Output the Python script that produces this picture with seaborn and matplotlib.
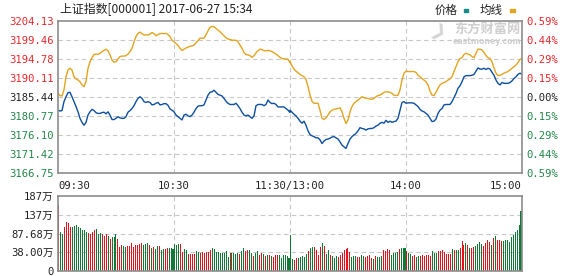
import numpy as np
import pandas as pd
import matplotlib
matplotlib.use("Agg")
import matplotlib.pyplot as plt
import seaborn as sns

# ---------------- data ----------------
title = "上证指数[000001] 2017-06-27 15:34"
legend_names = ["价格", "均线"]
time_labels = ["09:30", "10:30", "11:30/13:00", "14:00", "15:00"]
time_ticks = [0, 60, 120, 180, 240]
prev_close = 3185.44
price_tick_labels = ["3166.75", "3171.42", "3176.10", "3180.77", "3185.44",
                     "3190.11", "3194.78", "3199.46", "3204.13"]
pct_tick_labels = ["0.59%", "0.44%", "0.29%", "0.15%", "0.00%",
                   "0.15%", "0.29%", "0.44%", "0.59%"]
vol_tick_labels = ["0", "38.00万", "87.68万", "137万", "187万"]
vol_max = 187

price_am = [
    3182.2, 3182.0, 3182.1, 3184.3, 3185.5, 3186.5, 3186.6, 3185.5, 3184.3, 3183.1,
    3181.8, 3180.2, 3179.2, 3178.5, 3179.2, 3181.0, 3181.8, 3182.4, 3182.1, 3181.6,
    3181.4, 3181.4, 3181.6, 3181.7, 3181.3, 3181.8, 3181.0, 3179.9, 3179.9, 3180.2,
    3180.6, 3180.3, 3180.2, 3180.2, 3180.6, 3181.7, 3182.1, 3182.6, 3183.3, 3184.3,
    3185.1, 3185.5, 3185.1, 3184.3, 3184.1, 3184.3, 3184.1, 3183.5, 3183.6, 3183.9,
    3184.1, 3183.5, 3183.6, 3183.8, 3183.8, 3183.4, 3182.5, 3182.2,
    3181.8, 3181.0, 3180.6, 3180.2, 3179.8, 3181.0, 3181.2, 3180.8, 3180.6, 3181.0,
    3181.7, 3182.6, 3183.2, 3183.3, 3183.3, 3183.5, 3184.7, 3185.9, 3186.6, 3186.7,
    3187.1, 3186.6, 3186.1, 3185.9, 3185.7, 3185.1, 3184.4, 3183.9, 3183.6, 3183.6,
    3183.6, 3183.9, 3183.3, 3182.6, 3181.7, 3181.0, 3180.8, 3181.0, 3180.6, 3180.2,
    3180.8, 3183.3, 3183.6, 3183.6, 3183.6, 3183.3, 3183.6, 3184.7, 3184.1, 3183.8,
    3183.9, 3183.6, 3183.0, 3183.0, 3183.0, 3183.0, 3182.6, 3182.2, 3181.6]
price_pm = [
    3182.2, 3181.7, 3181.2, 3180.8, 3180.2, 3179.5, 3179.0, 3179.5, 3178.5, 3177.1,
    3176.2, 3175.9, 3175.7, 3175.4, 3175.4, 3174.9, 3174.0, 3174.6, 3175.0, 3175.1,
    3175.3, 3175.6, 3175.7, 3175.4, 3175.1, 3174.4, 3173.6, 3173.2, 3172.8, 3174.0,
    3175.1, 3175.7, 3176.1, 3176.5, 3177.1, 3177.9, 3177.7, 3177.6, 3177.3, 3177.6,
    3177.7, 3177.7, 3177.9, 3178.3, 3178.5, 3179.0, 3179.2, 3179.0, 3179.7, 3179.2,
    3179.5, 3179.2, 3179.4, 3179.5, 3180.2, 3182.2, 3184.1, 3184.3, 3183.9,
    3184.0, 3184.0, 3184.0, 3183.9, 3183.5, 3183.1, 3182.4, 3182.0, 3181.8, 3181.4,
    3181.0, 3180.2, 3179.4, 3179.5, 3180.0, 3181.4, 3182.2, 3182.6, 3183.5, 3183.6,
    3183.6, 3183.6, 3184.3, 3185.3, 3186.3, 3187.6, 3188.2, 3189.2, 3190.4, 3190.7,
    3190.7, 3190.7, 3190.8, 3191.0, 3191.8, 3192.6, 3192.3, 3192.3, 3192.5, 3192.2,
    3192.5, 3192.3, 3191.5, 3190.8, 3189.6, 3188.8, 3188.4, 3189.0, 3188.8, 3188.8,
    3188.8, 3189.0, 3189.4, 3190.0, 3190.4, 3191.0, 3191.3, 3191.0]
avg_am = [
    3186.3, 3185.8, 3185.7, 3187.2, 3190.4, 3192.1, 3192.5, 3192.1, 3190.4, 3189.9,
    3189.6, 3189.2, 3188.4, 3188.0, 3189.2, 3192.5, 3194.1, 3195.1, 3195.9, 3196.0,
    3195.9, 3196.2, 3196.6, 3196.9, 3197.2, 3196.8, 3195.8, 3194.5, 3194.0, 3194.1,
    3194.8, 3195.4, 3195.5, 3195.5, 3195.6, 3196.0, 3196.6, 3197.4, 3199.0, 3200.3,
    3201.1, 3201.4, 3201.0, 3200.7, 3200.7, 3200.7, 3200.9, 3201.3, 3201.0, 3200.5,
    3200.8, 3201.0, 3201.1, 3201.0, 3201.1, 3200.8, 3200.3, 3199.4,
    3199.0, 3198.6, 3198.1, 3197.4, 3196.9, 3197.2, 3197.5, 3197.7, 3197.9, 3198.0,
    3198.2, 3198.8, 3199.3, 3199.9, 3199.9, 3199.9, 3200.7, 3201.7, 3202.6, 3202.8,
    3202.7, 3202.3, 3201.9, 3201.5, 3201.0, 3200.5, 3200.0, 3199.7, 3199.6, 3199.4,
    3199.4, 3199.4, 3199.0, 3198.2, 3197.4, 3196.4, 3195.9, 3195.8, 3195.6, 3195.2,
    3195.6, 3196.3, 3196.8, 3197.2, 3197.1, 3196.8, 3196.8, 3196.9, 3196.8, 3196.6,
    3196.3, 3196.0, 3195.6, 3195.2, 3194.9, 3194.8, 3194.8, 3194.7, 3193.9]
avg_pm = [
    3194.1, 3193.1, 3192.3, 3191.8, 3191.4, 3191.0, 3190.7, 3190.4, 3189.8, 3188.0,
    3185.9, 3184.4, 3183.9, 3183.9, 3183.9, 3182.2, 3180.2, 3179.9, 3180.3, 3181.0,
    3181.8, 3182.2, 3182.4, 3182.5, 3182.6, 3182.8, 3181.8, 3180.2, 3178.9, 3179.8,
    3181.8, 3183.1, 3183.9, 3184.3, 3184.7, 3185.1, 3185.5, 3185.3, 3185.1, 3185.1,
    3184.9, 3184.9, 3185.1, 3185.5, 3185.8, 3185.9, 3186.2, 3186.6, 3186.7, 3186.7,
    3186.6, 3186.3, 3185.9, 3185.8, 3185.9, 3187.2, 3189.6, 3191.3, 3191.8,
    3191.7, 3191.7, 3191.7, 3191.7, 3191.5, 3190.8, 3190.4, 3190.0, 3189.6, 3189.2,
    3188.4, 3186.9, 3185.9, 3185.8, 3186.6, 3187.6, 3188.4, 3188.8, 3189.0, 3189.2,
    3189.6, 3189.9, 3190.4, 3191.7, 3192.9, 3194.1, 3194.9, 3195.1, 3195.9, 3196.2,
    3196.0, 3195.8, 3195.4, 3195.1, 3196.2, 3197.2, 3197.2, 3197.0, 3196.4, 3195.6,
    3195.1, 3194.9, 3194.1, 3192.6, 3191.3, 3190.7, 3190.8, 3191.0, 3191.3, 3191.5,
    3191.7, 3192.1, 3192.5, 3192.9, 3193.3, 3193.9, 3194.7, 3194.9]

# volume in 万 (one bar per minute), with direction r = up, g = down
vol_am = [
    165, 96, 92, 110, 122, 120, 110, 110, 112, 115, 110, 107, 101, 102, 97, 95, 92, 97, 102, 105,
    92, 95, 92, 87, 92, 87, 80, 85, 85, 92, 80, 60, 65, 62, 60, 62, 62, 70, 60, 65,
    65, 67, 70, 65, 67, 70, 65, 57, 60, 55, 62, 62, 52, 55, 55, 57, 57, 57, 55, 67,
    66, 67, 67, 47, 55, 52, 42, 42, 42, 42, 50, 47, 45, 47, 45, 47, 47, 52, 57, 55,
    47, 47, 45, 45, 45, 50, 35, 45, 45, 45, 42, 45, 42, 50, 57, 50, 52, 52, 45, 37,
    45, 50, 40, 45, 42, 37, 40, 40, 37, 35, 40, 40, 40, 32, 40, 40, 37, 32]
dir_am = ("rggrrrrgggggggg" "rrrrgggrrrgrgggrr" "rggrrrrrrrrgggrgrggrggrrggg"
          "gggrrggrrrrggrrrrrr" "gggggggggrggggrggrrggrggrrgrgrgrrrg")
vol_pm = [
    90, 30, 27, 32, 32, 35, 37, 35, 42, 50, 57, 60, 60, 52, 40, 60, 70, 62, 42, 52,
    40, 37, 32, 37, 35, 40, 45, 52, 55, 57, 47, 35, 37, 37, 35, 35, 40, 37, 35, 37,
    40, 32, 30, 37, 35, 35, 37, 52, 50, 55, 52, 40, 45, 45, 47, 55, 57, 57, 57,
    50, 45, 42, 37, 40, 35, 37, 37, 40, 37, 40, 40, 37, 50, 45, 45, 50, 50, 52, 47,
    42, 42, 42, 55, 52, 52, 52, 57, 75, 65, 70, 65, 57, 57, 60, 62, 67, 72, 67, 62,
    70, 77, 72, 65, 82, 87, 77, 77, 75, 75, 77, 77, 72, 85, 90, 97, 102, 115, 150]
dir_pm = ("gggggggrrgggggrggrrrrgrggrgggr" "rrrrrrgggrrggrrrrgrggg" "rrrrg"
          "gggrgggrggrrggrrrrrrggg" "rrrrrrrgrggrrrgrgrrggggrrrrgrgrrrg")

# ---------------- build tables ----------------
x_am = np.linspace(0, 120, len(price_am))
x_pm = np.linspace(120, 240, len(price_pm))
df_line = pd.DataFrame({
    "minute": np.concatenate([x_am, x_pm]),
    "price": price_am + price_pm,
    "avg": avg_am + avg_pm,
})
vols = vol_am + vol_pm
dirs = list((dir_am + dir_pm).ljust(len(vols), "g"))[:len(vols)]
vx_am = np.arange(len(vol_am)) * (120 / len(vol_am)) + 0.5
vx_pm = 120 + np.arange(len(vol_pm)) * (120 / len(vol_pm)) + 0.5
df_vol = pd.DataFrame({"minute": np.concatenate([vx_am, vx_pm]),
                       "vol": vols, "dir": dirs})

# ---------------- style ----------------
sns.set_theme(style="white")
plt.rcParams["font.family"] = ["DejaVu Sans", "Noto Sans CJK SC"]

RED = "#e8101a"
GREEN = "#0e7a36"
DARK = "#222222"
BLUE = "#0d4fa0"
ORANGE = "#e3a41e"
GRID = "#c8c8c8"
SPINE = "#8c8c8c"
TXT_RED = "#e8272b"
TXT_GREEN = "#23874a"
mono = ["DejaVu Sans Mono", "Noto Sans CJK SC"]

W, H = 578, 276
fig = plt.figure(figsize=(W / 100, H / 100), dpi=100)
fig.patch.set_facecolor("white")

def frac(l, t, r, b):
    return [l / W, 1 - b / H, (r - l) / W, (b - t) / H]

ax = fig.add_axes(frac(58, 21, 522, 173))
axv = fig.add_axes(frac(58, 196, 522, 271))

step = (3204.13 - prev_close) / 4
price_ticks = [prev_close + k * step for k in range(-4, 5)]

# lines
sns.lineplot(data=df_line, x="minute", y="avg", ax=ax, color=ORANGE, lw=1.0,
             estimator=None, sort=False, errorbar=None)
sns.lineplot(data=df_line, x="minute", y="price", ax=ax, color=BLUE, lw=1.0,
             estimator=None, sort=False, errorbar=None)

ax.set_xlim(0, 240)
ax.set_ylim(price_ticks[0], price_ticks[-1])
ax.set_yticks(price_ticks)
ax.set_yticklabels(price_tick_labels, fontfamily=mono, fontsize=7.6)
for i, lab in enumerate(ax.get_yticklabels()):
    lab.set_color(TXT_GREEN if i < 4 else (DARK if i == 4 else TXT_RED))
ax.set_xticks(time_ticks)
ax.set_xticklabels(time_labels, fontfamily=mono, fontsize=7.6, color=DARK)
xl = ax.get_xticklabels()
xl[0].set_ha("left")
xl[-1].set_ha("right")
ax.tick_params(axis="both", length=0, pad=3)
ax.tick_params(axis="x", pad=6)
ax.set_xlabel("")
ax.set_ylabel("")
for y in price_ticks[1:-1]:
    ax.axhline(y, color=GRID, lw=0.8, ls=(0, (4, 3)), zorder=0)
for x in time_ticks[1:-1]:
    ax.axvline(x, color=GRID, lw=0.8, ls=(0, (4, 3)), zorder=0)
for s in ax.spines.values():
    s.set_color(SPINE)
    s.set_linewidth(1.2)

axr = ax.twinx()
axr.set_ylim(ax.get_ylim())
axr.set_yticks(price_ticks)
axr.set_yticklabels(pct_tick_labels, fontfamily=mono, fontsize=7.6)
for i, lab in enumerate(axr.get_yticklabels()):
    lab.set_color(TXT_GREEN if i < 4 else (DARK if i == 4 else TXT_RED))
axr.tick_params(axis="y", length=0, pad=3)
for s in axr.spines.values():
    s.set_visible(False)

# volume bars (crisp, one per minute, about 1 px wide)
bar_colors = df_vol["dir"].map({"r": RED, "g": GREEN}).tolist()
axv.bar(df_vol["minute"], df_vol["vol"], width=0.53, color=bar_colors,
        linewidth=0, antialiased=False, zorder=2)
axv.set_xlim(0, 240)
axv.set_ylim(0, vol_max)
vt = [vol_max * k / 4 for k in range(5)]
axv.set_yticks(vt)
axv.set_yticklabels(vol_tick_labels, fontfamily=mono, fontsize=7.6, color=DARK)
axv.set_xticks([])
axv.tick_params(axis="y", length=0, pad=3)
for y in vt[1:-1]:
    axv.axhline(y, color=GRID, lw=0.8, ls=(0, (4, 3)), zorder=0)
for x in time_ticks[1:-1]:
    axv.axvline(x, color=GRID, lw=0.8, ls=(0, (4, 3)), zorder=0)
for s in axv.spines.values():
    s.set_color(SPINE)
    s.set_linewidth(1.2)

# title and legend
fig.text(60 / W, 1 - 10 / H, title, fontsize=8.6, color=DARK, va="center", ha="left",
         family=["Noto Sans CJK SC", "DejaVu Sans"])
fig.text(435 / W, 1 - 10 / H, legend_names[0], fontsize=8.3, color=DARK, va="center",
         ha="left", family=["Noto Sans CJK SC"])
fig.text(480 / W, 1 - 10 / H, legend_names[1], fontsize=8.3, color=DARK, va="center",
         ha="left", family=["Noto Sans CJK SC"])
fig.patches.append(plt.Rectangle((464 / W, 1 - 12 / H), 4 / W, 3 / H, color="#138a86",
                                 transform=fig.transFigure))
fig.patches.append(plt.Rectangle((510 / W, 1 - 12 / H), 5 / W, 3 / H, color=ORANGE,
                                 transform=fig.transFigure))

# watermark
fig.text(521 / W, 1 - 29 / H, "东方财富网", fontsize=9.5, color="#cfcfcf", ha="right",
         va="center", fontweight="bold", family=["Noto Sans CJK SC"])
fig.text(521 / W, 1 - 41.5 / H, "eastmoney.com", fontsize=5.6, color="#cfcfcf", ha="right",
         va="center", fontweight="bold", family=["DejaVu Sans"])
fig.text(438 / W, 1 - 33 / H, "❯", fontsize=12, color="#d5d5d5", ha="center",
         va="center", fontweight="bold", family=["DejaVu Sans"], rotation=-30)

fig.savefig("out.png", dpi=100, facecolor="white")
